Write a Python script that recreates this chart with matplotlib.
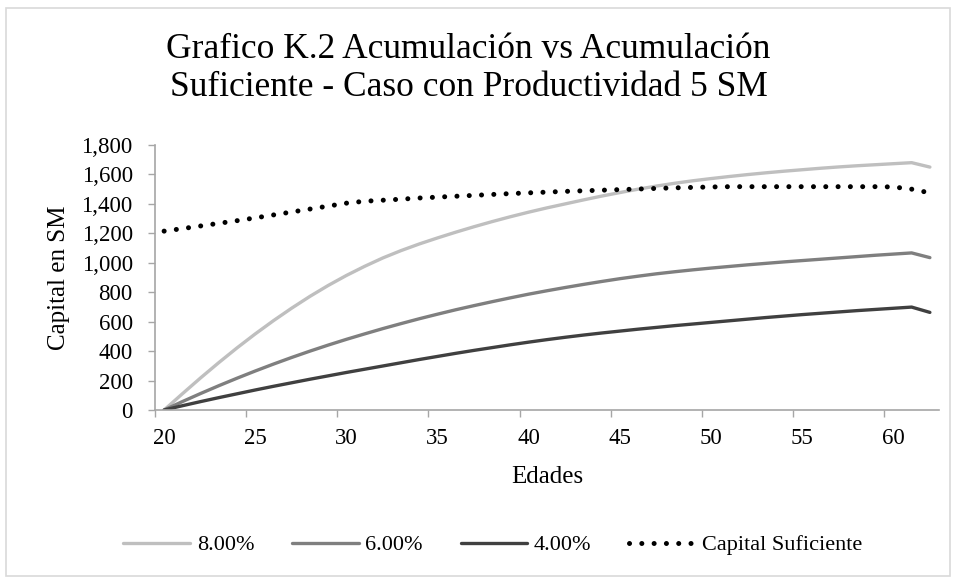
import matplotlib
matplotlib.use("Agg")
import matplotlib.pyplot as plt
from matplotlib.patches import Rectangle
from matplotlib.ticker import FuncFormatter, FixedLocator

plt.rcParams['font.family'] = ['Liberation Serif', 'DejaVu Serif']

ages = list(range(20, 63))

r8 = [0, 110, 218, 322, 422, 517, 607, 692, 772, 846, 914, 976, 1033, 1083, 1128,
      1169, 1208, 1245, 1280, 1313, 1344, 1373, 1400, 1427, 1453, 1477, 1500, 1521,
      1540, 1557, 1572, 1586, 1599, 1611, 1622, 1632, 1642, 1651, 1659, 1666, 1673,
      1680, 1650]

r6 = [0, 57, 112, 165, 216, 265, 312, 357, 400, 441, 480, 517, 553, 587, 620,
      651, 681, 709, 736, 762, 787, 810, 832, 853, 873, 892, 909, 925, 939, 952,
      964, 975, 986, 996, 1006, 1015, 1024, 1033, 1042, 1051, 1059, 1067, 1035]

r4 = [0, 29, 57, 84, 110, 136, 161, 185, 209, 232, 255, 277, 299, 321, 343,
      364, 385, 405, 424, 443, 461, 478, 494, 509, 523, 536, 549, 561, 573, 584,
      595, 606, 617, 628, 638, 648, 657, 666, 675, 683, 691, 699, 663]

suficiente = [1215, 1232, 1250, 1268, 1286, 1305, 1325, 1345, 1365, 1385, 1405,
              1418, 1425, 1432, 1440, 1446, 1452, 1458, 1464, 1470, 1475, 1480,
              1485, 1489, 1493, 1497, 1501, 1505, 1509, 1512, 1515, 1517, 1517,
              1517, 1517, 1517, 1517, 1517, 1517, 1517, 1515, 1500, 1475]

series_labels = ['8.00%', '6.00%', '4.00%', 'Capital Suficiente']
x_tick_labels = ['20', '25', '30', '35', '40', '45', '50', '55', '60']
title = 'Grafico K.2 Acumulación vs Acumulación\nSuficiente - Caso con Productividad 5 SM'

fig = plt.figure(figsize=(9.56, 5.78), dpi=100)
ax = fig.add_axes([155/956, 1-410/578, (939-155)/956, (410-145)/578])

ax.plot(ages, r8, color='#BFBFBF', lw=2.4, label=series_labels[0], solid_capstyle='round')
ax.plot(ages, r6, color='#7F7F7F', lw=2.4, label=series_labels[1], solid_capstyle='round')
ax.plot(ages, r4, color='#404040', lw=2.4, label=series_labels[2], solid_capstyle='round')
ax.plot(ages, suficiente, color='black', lw=3.6, linestyle=(0, (0.01, 2.45)),
        dash_capstyle='round', label=series_labels[3])

ax.set_xlim(19.5, 62.5)
ax.set_ylim(0, 1800)
ax.set_yticks(range(0, 1801, 200))
ax.yaxis.set_major_formatter(FuncFormatter(lambda v, p: f'{int(v):,}'))

# category-style axis: tick marks between categories, labels on categories
ax.xaxis.set_major_locator(FixedLocator([19.5 + 5*k for k in range(9)]))
ax.xaxis.set_major_formatter(FuncFormatter(lambda v, p: ''))
ax.xaxis.set_minor_locator(FixedLocator([int(t) for t in x_tick_labels]))
ax.set_xticklabels(x_tick_labels, minor=True)
ax.tick_params(axis='x', which='major', length=5, width=1, color='#A6A6A6', direction='out')
ax.tick_params(axis='x', which='minor', length=0, pad=13, labelsize=16.5)
ax.tick_params(axis='y', length=5, width=1, color='#A6A6A6', direction='out', labelsize=16.5, pad=11)

for s in ['top', 'right']:
    ax.spines[s].set_visible(False)
for s in ['left', 'bottom']:
    ax.spines[s].set_color('#A6A6A6')
    ax.spines[s].set_linewidth(1.2)

ax.set_xlabel('Edades', fontsize=18, labelpad=12)
ax.set_ylabel('Capital en SM', fontsize=18, labelpad=8)

fig.text(0.49, 1-68/578, title, ha='center', va='center', fontsize=25.5, linespacing=1.2)

leg = fig.legend(loc='center', bbox_to_anchor=(493/956, 1-545/578), ncol=4, frameon=False,
                 fontsize=16, handlelength=3.0, handletextpad=0.3, columnspacing=1.7)

fig.patches.append(Rectangle((6/956, 0.003), 1-12/956, 1-10/578, transform=fig.transFigure,
                             fill=False, edgecolor='#D9D9D9', lw=1.2))

fig.savefig('out.png', dpi=100)
